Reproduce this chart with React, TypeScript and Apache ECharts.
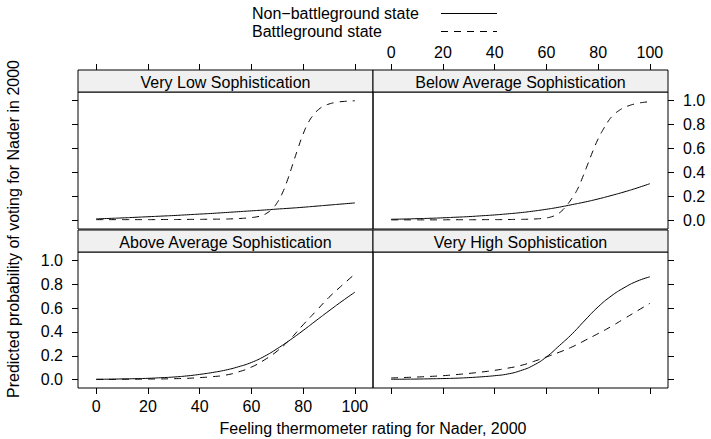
import React, { useEffect, useRef } from "react";
import * as echarts from "echarts";

const FONT = "'Liberation Sans', Arial, Helvetica, sans-serif";

const X_TICKS = [0, 20, 40, 60, 80, 100];
const Y_TICKS = [0, 0.2, 0.4, 0.6, 0.8, 1.0];

const PANEL_TITLES = [
  "Very Low Sophistication",
  "Below Average Sophistication",
  "Above Average Sophistication",
  "Very High Sophistication",
];

const LEGEND_LABELS = ["Non\u2212battleground state", "Battleground state"];

// thermometer values (step 5 and step 2)
const X5 = [0, 5, 10, 15, 20, 25, 30, 35, 40, 45, 50, 55, 60, 65, 70, 75, 80, 85, 90, 95, 100];
const X2 = [
  0, 2, 4, 6, 8, 10, 12, 14, 16, 18, 20, 22, 24, 26, 28, 30, 32, 34, 36, 38, 40, 42, 44, 46, 48, 50,
  52, 54, 56, 58, 60, 62, 64, 66, 68, 70, 72, 74, 76, 78, 80, 82, 84, 86, 88, 90, 92, 94, 96, 98, 100,
];

// Very Low Sophistication
const vlNonY = [0.014, 0.018, 0.022, 0.027, 0.032, 0.037, 0.042, 0.048, 0.054, 0.06, 0.067, 0.074, 0.081, 0.088, 0.096, 0.103, 0.111, 0.12, 0.129, 0.138, 0.147];
const vlBatY = [
  0.008, 0.008, 0.008, 0.008, 0.008, 0.008, 0.008, 0.008, 0.008, 0.008, 0.008, 0.008, 0.009, 0.009, 0.009, 0.009, 0.009, 0.009, 0.01, 0.01,
  0.01, 0.011, 0.011, 0.012, 0.012, 0.013, 0.014, 0.016, 0.018, 0.021, 0.025, 0.031, 0.042, 0.062, 0.097, 0.15, 0.23, 0.34, 0.47, 0.6,
  0.72, 0.815, 0.88, 0.925, 0.953, 0.97, 0.981, 0.988, 0.992, 0.995, 0.997,
];

// Below Average Sophistication
const baNonY = [0.011, 0.013, 0.016, 0.019, 0.023, 0.028, 0.033, 0.04, 0.047, 0.056, 0.066, 0.079, 0.094, 0.112, 0.133, 0.155, 0.18, 0.208, 0.238, 0.271, 0.307];
const baBatY = [
  0.006, 0.006, 0.006, 0.006, 0.006, 0.006, 0.006, 0.006, 0.006, 0.006, 0.006, 0.007, 0.007, 0.007, 0.007, 0.007, 0.007, 0.007, 0.008, 0.008,
  0.008, 0.008, 0.009, 0.009, 0.01, 0.01, 0.011, 0.012, 0.014, 0.017, 0.022, 0.032, 0.05, 0.082, 0.13, 0.19, 0.26, 0.36, 0.47, 0.58,
  0.68, 0.76, 0.83, 0.88, 0.915, 0.94, 0.957, 0.97, 0.979, 0.985, 0.99,
];

// Above Average Sophistication
const aaNonY = [0.003, 0.004, 0.006, 0.008, 0.011, 0.016, 0.022, 0.031, 0.044, 0.06, 0.08, 0.108, 0.144, 0.195, 0.26, 0.333, 0.412, 0.495, 0.577, 0.657, 0.733];
const aaBatY = [0.002, 0.002, 0.003, 0.004, 0.005, 0.006, 0.008, 0.011, 0.017, 0.025, 0.038, 0.065, 0.105, 0.165, 0.24, 0.34, 0.46, 0.575, 0.69, 0.79, 0.885];

// Very High Sophistication
const vhNonY = [0.003, 0.004, 0.005, 0.007, 0.009, 0.012, 0.017, 0.024, 0.033, 0.047, 0.075, 0.12, 0.19, 0.285, 0.385, 0.5, 0.61, 0.7, 0.77, 0.825, 0.862];
const vhBatY = [0.014, 0.018, 0.022, 0.027, 0.033, 0.042, 0.052, 0.064, 0.078, 0.096, 0.118, 0.152, 0.19, 0.23, 0.275, 0.33, 0.386, 0.445, 0.51, 0.575, 0.64];

const zip = (xs: number[], ys: number[]) => xs.map((x, i) => [x, ys[i]]);

const PANEL_DATA = [
  { non: zip(X5, vlNonY), bat: zip(X2, vlBatY) },
  { non: zip(X5, baNonY), bat: zip(X2, baBatY) },
  { non: zip(X5, aaNonY), bat: zip(X5, aaBatY) },
  { non: zip(X5, vhNonY), bat: zip(X5, vhBatY) },
];

const PANELS = [
  { left: 78, top: 92, width: 295, height: 137 },
  { left: 373, top: 92, width: 295, height: 137 },
  { left: 78, top: 252, width: 295, height: 136 },
  { left: 373, top: 252, width: 295, height: 136 },
];
const STRIP_H = 22;
const DASH = [7, 6];

export default function App() {
  const ref = useRef<HTMLDivElement>(null);

  useEffect(() => {
    if (!ref.current) return;
    const chart = echarts.init(ref.current, undefined, { renderer: "svg" });

    const tickStyle = { color: "#000", width: 1 };
    const labelStyle = { color: "#000", fontSize: 16, fontFamily: FONT };

    const grid = PANELS.map((p) => ({
      left: p.left,
      top: p.top,
      width: p.width,
      height: p.height,
      show: true,
      borderColor: "#000",
      borderWidth: 1,
      backgroundColor: "transparent",
      containLabel: false,
    }));

    const xAxis = PANELS.map((_, i) => {
      const isTop = i < 2;
      const showLabel = i === 1 || i === 2;
      return {
        type: "value",
        gridIndex: i,
        min: -7,
        max: 107,
        position: isTop ? "top" : "bottom",
        offset: isTop ? STRIP_H : 0,
        axisLine: { show: false, onZero: false },
        splitLine: { show: false },
        axisTick: { show: true, inside: false, length: 6, lineStyle: tickStyle, customValues: X_TICKS },
        axisLabel: {
          show: showLabel,
          customValues: X_TICKS,
          margin: 10,
          ...labelStyle,
          formatter: (v: number) => String(v),
        },
      };
    });

    const yAxis = PANELS.map((_, i) => {
      const isLeft = i % 2 === 0;
      const showLabel = i === 1 || i === 2;
      return {
        type: "value",
        gridIndex: i,
        min: -0.07,
        max: 1.07,
        position: isLeft ? "left" : "right",
        axisLine: { show: false, onZero: false },
        splitLine: { show: false },
        axisTick: { show: true, inside: false, length: 6, lineStyle: tickStyle, customValues: Y_TICKS },
        axisLabel: {
          show: showLabel,
          customValues: Y_TICKS,
          margin: 15,
          ...labelStyle,
          formatter: (v: number) => v.toFixed(1),
        },
      };
    });

    const series: any[] = [];
    PANEL_DATA.forEach((d, i) => {
      series.push({
        name: LEGEND_LABELS[0],
        type: "line",
        xAxisIndex: i,
        yAxisIndex: i,
        data: d.non,
        symbol: "none",
        smooth: 0.5,
        lineStyle: { color: "#000", width: 1, type: "solid" },
        silent: true,
      });
      series.push({
        name: LEGEND_LABELS[1],
        type: "line",
        xAxisIndex: i,
        yAxisIndex: i,
        data: d.bat,
        symbol: "none",
        smooth: 0.5,
        lineStyle: { color: "#000", width: 1, type: DASH },
        silent: true,
      });
    });

    const graphic: any[] = [];
    PANELS.forEach((p, i) => {
      const sy = p.top - STRIP_H;
      graphic.push({
        type: "rect",
        shape: { x: p.left, y: sy, width: p.width, height: STRIP_H },
        style: { fill: "#f0f0f0", stroke: "#000", lineWidth: 1 },
        z: 10,
      });
      graphic.push({
        type: "text",
        x: p.left + p.width / 2,
        y: sy + STRIP_H / 2 + 1,
        style: {
          text: PANEL_TITLES[i],
          fill: "#000",
          fontSize: 16,
          fontFamily: FONT,
          align: "center",
          verticalAlign: "middle",
        },
        z: 11,
      });
    });

    // Legend
    const legendRows = [13, 31];
    LEGEND_LABELS.forEach((lab, i) => {
      graphic.push({
        type: "text",
        x: 252,
        y: legendRows[i],
        style: { text: lab, fill: "#000", fontSize: 16, fontFamily: FONT, align: "left", verticalAlign: "middle" },
      });
      graphic.push({
        type: "line",
        shape: { x1: 441, y1: legendRows[i] + 0.5, x2: 497, y2: legendRows[i] + 0.5 },
        style: { stroke: "#000", lineWidth: 1, lineDash: i === 0 ? null : DASH },
      });
    });

    // Axis titles
    graphic.push({
      type: "text",
      x: 373,
      y: 428,
      style: {
        text: "Feeling thermometer rating for Nader, 2000",
        fill: "#000",
        fontSize: 16,
        fontFamily: FONT,
        align: "center",
        verticalAlign: "middle",
      },
    });
    graphic.push({
      type: "text",
      x: 13,
      y: 229,
      rotation: Math.PI / 2,
      style: {
        text: "Predicted probability of voting for Nader in 2000",
        fill: "#000",
        fontSize: 16,
        fontFamily: FONT,
        align: "center",
        verticalAlign: "middle",
      },
    });

    chart.setOption({
      animation: false,
      backgroundColor: "#fff",
      textStyle: { fontFamily: FONT },
      grid,
      xAxis,
      yAxis,
      series,
      graphic,
    });

    return () => chart.dispose();
  }, []);

  return (
    <div
      ref={ref}
      style={{ position: "absolute", left: 0, top: 0, width: 711, height: 439 }}
    />
  );
}
